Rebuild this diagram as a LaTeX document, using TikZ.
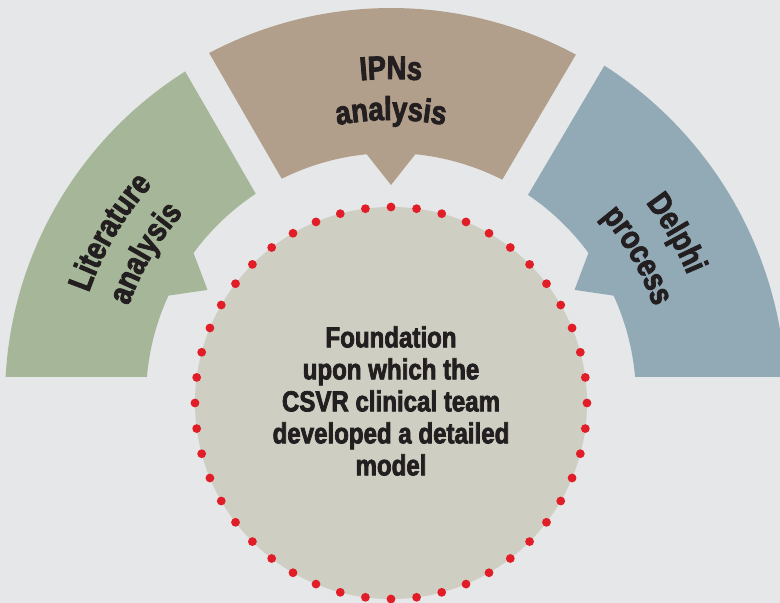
\documentclass[tikz,border=0pt]{standalone}
\usepackage{fontspec}
\newfontfamily\condfont{Liberation Sans}[FakeStretch=0.83,BoldFeatures={FakeBold=2.5}]
\usetikzlibrary{calc,decorations.text}
\definecolor{bg}{HTML}{E6E7E8}
\definecolor{sgreen}{HTML}{A6B799}
\definecolor{sbrown}{HTML}{B29F8B}
\definecolor{sblue}{HTML}{92AAB6}
\definecolor{corefill}{HTML}{CECEC2}
\definecolor{dotred}{HTML}{E11E28}
\definecolor{ink}{HTML}{231F20}
\newcommand\sectfont{\condfont\bfseries\fontsize{33}{40}\selectfont}
\newcommand\corefont{\condfont\bfseries\fontsize{29}{32}\selectfont}
\tikzset{
  arclabel/.style={decorate,decoration={text along path,text={|\sectfont|#1},text align=center,text color=ink}},
  coretext/.style={font=\corefont,text=ink,align=center,inner sep=0pt}
}
\begin{document}
\begin{tikzpicture}[x=1pt,y=1pt]
\useasboundingbox (0,0) rectangle (780,603);
\clip (0,0) rectangle (780,603);
\fill[bg] (0,0) rectangle (780,603);
\coordinate (O) at (391,205);
\coordinate (C) at (391,200);
% Literature analysis sector
\fill[sgreen] ($(O)+(122.23:386)$) arc[start angle=122.23,end angle=176.88,radius=386]
  -- ($(O)+(175.08:245)$) arc[start angle=175.08,end angle=155.3,radius=245]
  -- ($(O)+(149.5:213)$) -- ($(O)+(143.7:245)$)
  arc[start angle=143.7,end angle=123.51,radius=245] -- cycle;
% IPNs analysis sector
\fill[sbrown] ($(O)+(61.7:390)$) arc[start angle=61.7,end angle=117.8,radius=390]
  -- ($(O)+(116.49:245)$) arc[start angle=116.49,end angle=95.7,radius=245]
  -- ($(O)+(90:213)$) -- ($(O)+(84.3:245)$)
  arc[start angle=84.3,end angle=63.0,radius=245] -- cycle;
% Delphi process sector
\fill[sblue] ($(O)+(3.05:395)$) arc[start angle=3.05,end angle=57.3,radius=395]
  -- ($(O)+(56.0:245)$) arc[start angle=56.0,end angle=36.3,radius=245]
  -- ($(O)+(30.5:213)$) -- ($(O)+(24.7:245)$)
  arc[start angle=24.7,end angle=4.92,radius=245] -- cycle;
% labels on arcs
\path[arclabel=IPNs] ($(O)+(130:319)$) arc[start angle=130,end angle=50,radius=319];
\path[arclabel=analysis] ($(O)+(130:278)$) arc[start angle=130,end angle=50,radius=278];
\path[arclabel=Literature] ($(O)+(189.5:320)$) arc[start angle=189.5,end angle=109.5,radius=320];
\path[arclabel=analysis] ($(O)+(189.5:278)$) arc[start angle=189.5,end angle=109.5,radius=278];
\path[arclabel=Delphi] ($(O)+(70:321)$) arc[start angle=70,end angle=-10,radius=321];
\path[arclabel=process] ($(O)+(70:278)$) arc[start angle=70,end angle=-10,radius=278];
% central circle
\fill[corefill] (C) circle[radius=196];
\foreach \a in {0,7.5,...,352.5}
  \fill[dotred] ($(C)+(\a:196)$) circle[radius=4.4];
\node[coretext] (found) at (391,202) {Foundation\\upon which the\\CSVR clinical team\\developed a detailed\\model};
\end{tikzpicture}
\end{document}
